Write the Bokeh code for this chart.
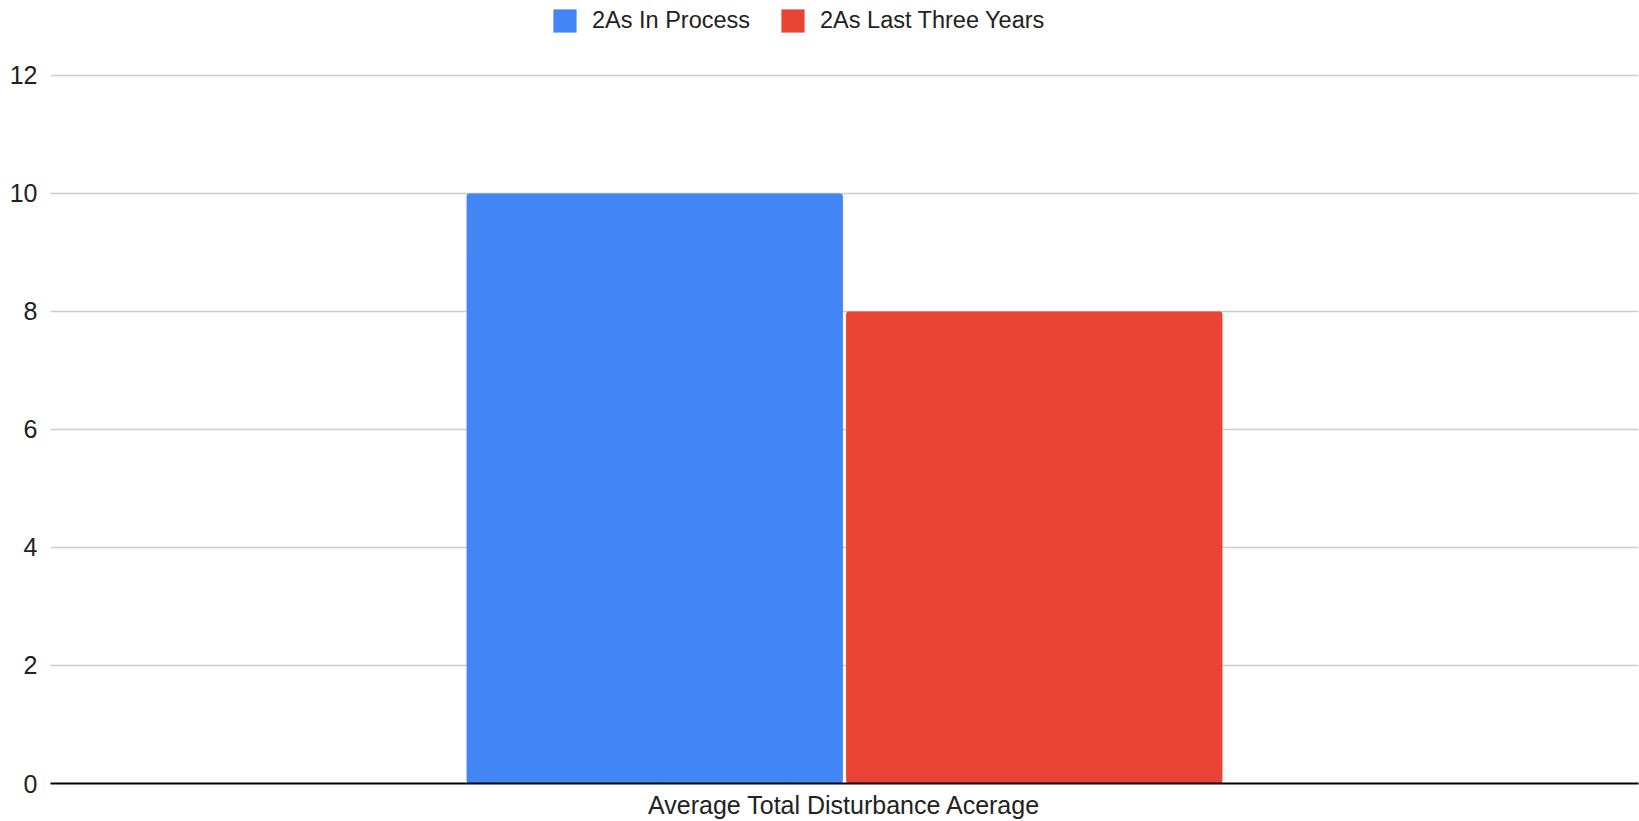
from bokeh.plotting import figure
from bokeh.models import ColumnDataSource, FactorRange, FixedTicker, Legend, LegendItem, Range1d
from bokeh.transform import dodge
from bokeh.embed import file_html
from bokeh.resources import INLINE

categories = ["Average Total Disturbance Acerage"]
series_names = ["2As In Process", "2As Last Three Years"]
in_process = [10]
last_three_years = [8]
y_ticks = [0, 2, 4, 6, 8, 10, 12]

FONT = "Liberation Sans"
TEXT = "#222222"
FS = "25px"

src = ColumnDataSource(data=dict(cat=categories, a=in_process, b=last_three_years))

# frame spans from the top of the page; headroom above 12 holds the legend
p = figure(width=1639, height=821, x_range=FactorRange(factors=categories, range_padding=0),
           y_range=Range1d(0, 13.27), output_backend="svg", toolbar_location=None,
           min_border_left=50, min_border_right=1, min_border_top=0, min_border_bottom=38)
p.outline_line_color = None

r1 = p.vbar(x=dodge("cat", -0.1195, range=p.x_range), top="a", width=0.237, source=src,
            fill_color="#4285F4", line_color=None, border_radius=3)
r2 = p.vbar(x=dodge("cat", 0.1195, range=p.x_range), top="b", width=0.237, source=src,
            fill_color="#EA4335", line_color=None, border_radius=3)

for ax in (p.xaxis, p.yaxis):
    ax.major_tick_line_color = None
    ax.minor_tick_line_color = None
    ax.major_tick_out = 0
    ax.major_tick_in = 0
    ax.minor_tick_out = 0
    ax.minor_tick_in = 0
    ax.major_label_text_font = FONT
    ax.major_label_text_font_size = FS
    ax.major_label_text_color = TEXT

p.yaxis.ticker = FixedTicker(ticks=y_ticks)
p.yaxis.axis_line_color = None
p.yaxis.major_label_standoff = 13

p.xaxis.axis_line_color = "#000000"
p.xaxis.axis_line_width = 2
p.xaxis.major_label_standoff = 7

p.xgrid.grid_line_color = None
p.ygrid.grid_line_color = "#cccccc"
p.ygrid.grid_line_width = 1.5

legend = Legend(items=[LegendItem(label=series_names[0], renderers=[r1]),
                       LegendItem(label=series_names[1], renderers=[r2])],
                orientation="horizontal", location=(500, 748),
                padding=0, margin=0, spacing=28, label_standoff=13,
                glyph_width=29, glyph_height=29, label_height=29,
                label_text_font=FONT, label_text_font_size="23.5px", label_text_color=TEXT,
                border_line_alpha=0, background_fill_alpha=0)
p.add_layout(legend, "center")

open("out.html", "w").write(file_html(p, INLINE))
